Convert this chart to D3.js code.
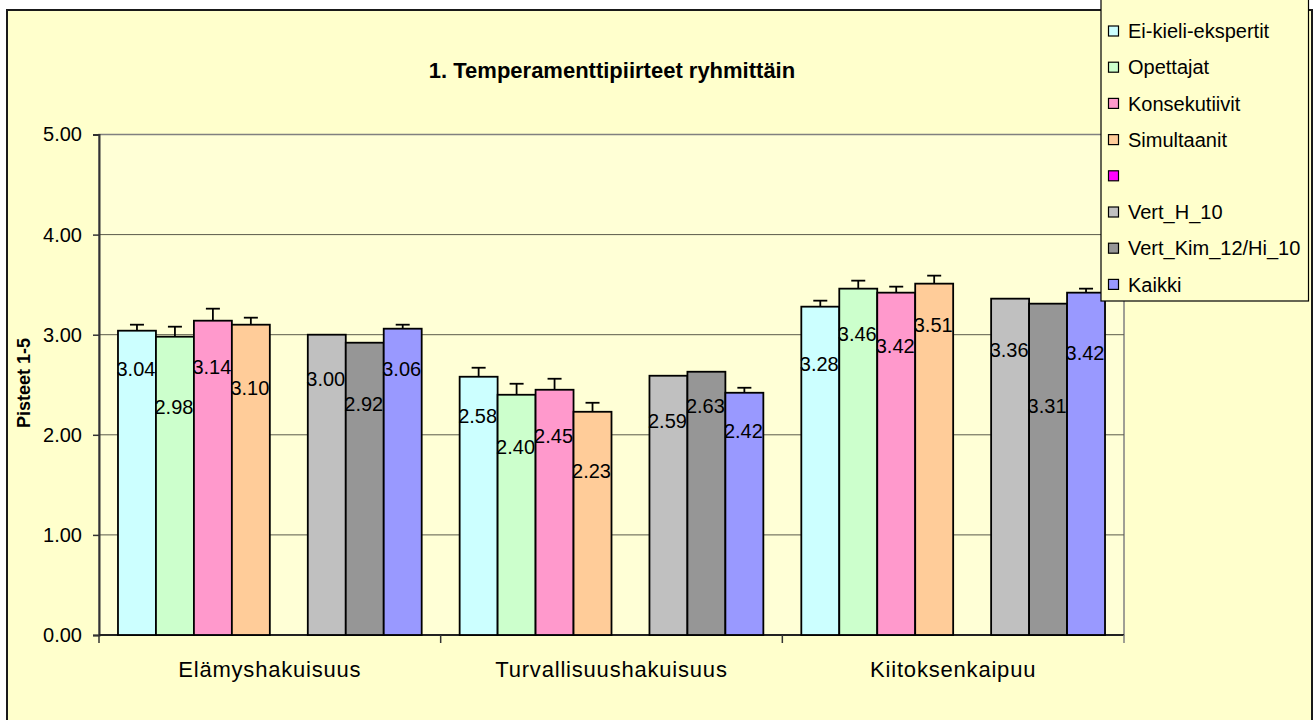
<!DOCTYPE html>
<html>
<head>
<meta charset="utf-8">
<script src="https://cdn.jsdelivr.net/npm/d3@7"></script>
<style>
  html, body { margin: 0; padding: 0; background: #ffffff; }
  svg { display: block; font-family: Arial, "Liberation Sans", sans-serif; }
</style>
</head>
<body>
<svg id="chart" width="1316" height="720"></svg>
<script>
// ---------- data ----------
const title = "1. Temperamenttipiirteet ryhmittäin";
const yAxisTitle = "Pisteet 1-5";
const categories = ["Elämyshakuisuus", "Turvallisuushakuisuus", "Kiitoksenkaipuu"];
const seriesNames = ["Ei-kieli-ekspertit", "Opettajat", "Konsekutiivit", "Simultaanit", "", "Vert_H_10", "Vert_Kim_12/Hi_10", "Kaikki"];
const seriesColors = ["#CCFFFF", "#CCFFCC", "#FF99CC", "#FFCC99", "#FF00FF", "#C0C0C0", "#969696", "#9999FF"];
// values per series, one per category (null = no data)
const eiKieli      = [3.04, 2.58, 3.28];
const opettajat    = [2.98, 2.40, 3.46];
const konsekutiivit= [3.14, 2.45, 3.42];
const simultaanit  = [3.10, 2.23, 3.51];
const tyhja        = [null, null, null];
const vertH10      = [3.00, 2.59, 3.36];
const vertKim      = [2.92, 2.63, 3.31];
const kaikki       = [3.06, 2.42, 3.42];
// error bar (plus) amounts, null = no error bar
const errEiKieli   = [0.06, 0.09, 0.06];
const errOpettajat = [0.10, 0.11, 0.08];
const errKonsek    = [0.12, 0.11, 0.06];
const errSimult    = [0.07, 0.09, 0.08];
const errTyhja     = [null, null, null];
const errVertH     = [null, null, null];
const errVertKim   = [null, null, null];
const errKaikki    = [0.04, 0.05, 0.04];
// value level (on the 0-5 scale) where each data label sits in the picture
const lblEiKieli   = [2.655, 2.19, 2.71];
const lblOpettajat = [2.28, 1.88, 3.01];
const lblKonsek    = [2.68, 1.99, 2.89];
const lblSimult    = [2.47, 1.64, 3.10];
const lblTyhja     = [null, null, null];
const lblVertH     = [2.56, 2.14, 2.85];
const lblVertKim   = [2.31, 2.29, 2.29];
const lblKaikki    = [2.66, 2.04, 2.82];
const yTicks = [0, 1, 2, 3, 4, 5];

const seriesValues = [eiKieli, opettajat, konsekutiivit, simultaanit, tyhja, vertH10, vertKim, kaikki];
const seriesErrors = [errEiKieli, errOpettajat, errKonsek, errSimult, errTyhja, errVertH, errVertKim, errKaikki];
const seriesLabels = [lblEiKieli, lblOpettajat, lblKonsek, lblSimult, lblTyhja, lblVertH, lblVertKim, lblKaikki];

// ---------- layout ----------
const svg = d3.select("#chart");
const plot = { left: 99, right: 1124, top: 134.5, bottom: 635 };
const fontMain = 20;

// chart area background + border
svg.append("rect").attr("x", 0).attr("y", 0).attr("width", 1316).attr("height", 720).attr("fill", "#ffffff");
svg.append("rect").attr("x", 7).attr("y", 10).attr("width", 1305).attr("height", 720)
  .attr("fill", "#FFFFCC").attr("stroke", "#1a1a1a").attr("stroke-width", 2);

// plot area
svg.append("rect").attr("x", plot.left).attr("y", plot.top)
  .attr("width", plot.right - plot.left).attr("height", plot.bottom - plot.top)
  .attr("fill", "#FFFFD6").attr("stroke", "#808080").attr("stroke-width", 1.5);

const x0 = d3.scaleBand().domain(categories).range([plot.left, plot.right]).paddingInner(0).paddingOuter(0);
const x1 = d3.scaleBand().domain(d3.range(seriesNames.length)).range([0, x0.bandwidth()]).paddingInner(0).paddingOuter(0.5);
const y = d3.scaleLinear().domain([0, 5]).range([plot.bottom, plot.top]);

// gridlines
svg.append("g").selectAll("line").data(yTicks.filter(t => t > 0)).join("line")
  .attr("x1", plot.left).attr("x2", plot.right)
  .attr("y1", d => y(d)).attr("y2", d => y(d))
  .attr("stroke", d => d === 5 ? "#808080" : "#5a5a4a").attr("stroke-width", 1);

// y axis
const yAxis = d3.axisLeft(y).tickValues(yTicks).tickFormat(d3.format(".2f")).tickSize(6).tickPadding(11);
const gy = svg.append("g").attr("transform", `translate(${plot.left},0)`).call(yAxis);
gy.select(".domain").attr("stroke", "#333333").attr("stroke-width", 2);
gy.selectAll(".tick line").attr("stroke", "#333333").attr("stroke-width", 1.5);
gy.selectAll(".tick text").attr("font-size", fontMain).attr("fill", "#000").attr("font-family", "Arial, 'Liberation Sans', sans-serif");

// x axis line and category ticks
const xTickPositions = categories.map(c => x0(c)).concat([x0(categories[categories.length - 1]) + x0.bandwidth()]);
svg.append("line").attr("x1", plot.left).attr("x2", plot.right).attr("y1", plot.bottom).attr("y2", plot.bottom)
  .attr("stroke", "#222222").attr("stroke-width", 2);
svg.append("g").selectAll("line").data(xTickPositions).join("line")
  .attr("x1", d => d).attr("x2", d => d).attr("y1", plot.bottom).attr("y2", plot.bottom + 8)
  .attr("stroke", (d, i) => i === xTickPositions.length - 1 ? "#808080" : "#333333").attr("stroke-width", 1.5);
svg.append("g").selectAll("text").data(categories).join("text")
  .attr("x", d => x0(d) + x0.bandwidth() / 2).attr("y", 677)
  .attr("text-anchor", "middle").attr("font-size", 22).attr("letter-spacing", 0.8)
  .attr("fill", "#000").text(d => d);

// bars
const barData = [];
seriesValues.forEach((vals, si) => {
  vals.forEach((v, ci) => {
    if (v !== null) barData.push({ si, ci, v, err: seriesErrors[si][ci], lbl: seriesLabels[si][ci] });
  });
});
const gBars = svg.append("g");
gBars.selectAll("rect").data(barData).join("rect")
  .attr("x", d => x0(categories[d.ci]) + x1(d.si))
  .attr("y", d => y(d.v))
  .attr("width", x1.bandwidth())
  .attr("height", d => y(0) - y(d.v))
  .attr("fill", d => seriesColors[d.si])
  .attr("stroke", "#000").attr("stroke-width", 1.8);

// error bars
const errData = barData.filter(d => d.err !== null);
const gErr = svg.append("g").attr("stroke", "#000").attr("stroke-width", 1.8);
errData.forEach(d => {
  const cx = x0(categories[d.ci]) + x1(d.si) + x1.bandwidth() / 2;
  gErr.append("line").attr("x1", cx).attr("x2", cx).attr("y1", y(d.v)).attr("y2", y(d.v + d.err));
  gErr.append("line").attr("x1", cx - 7).attr("x2", cx + 7).attr("y1", y(d.v + d.err)).attr("y2", y(d.v + d.err));
});

// data labels
svg.append("g").selectAll("text").data(barData).join("text")
  .attr("x", d => x0(categories[d.ci]) + x1(d.si) + x1.bandwidth() / 2 - 1)
  .attr("y", d => y(d.lbl))
  .attr("dy", "0.36em")
  .attr("text-anchor", "middle").attr("font-size", fontMain).attr("fill", "#000")
  .text(d => d3.format(".2f")(d.v));

// title
svg.append("text").attr("x", 612).attr("y", 78).attr("text-anchor", "middle")
  .attr("font-size", 22).attr("font-weight", "bold").attr("fill", "#000").text(title);

// y axis title
svg.append("text").attr("transform", "translate(30,383) rotate(-90)")
  .attr("text-anchor", "middle").attr("font-size", 18).attr("font-weight", "bold").attr("fill", "#000").text(yAxisTitle);

// legend
const legend = svg.append("g");
legend.append("rect").attr("x", 1101).attr("y", -5).attr("width", 207.5).attr("height", 306)
  .attr("fill", "#FFFFCC").attr("stroke", "#000").attr("stroke-width", 1.2);
const legItems = legend.selectAll("g.item").data(seriesNames.map((n, i) => ({ n, i }))).join("g").attr("class", "item")
  .attr("transform", d => `translate(0,${31 + d.i * 36.2})`);
legItems.append("rect").attr("x", 1108.5).attr("y", -5).attr("width", 10).attr("height", 10)
  .attr("fill", d => seriesColors[d.i]).attr("stroke", "#000").attr("stroke-width", 1.2);
legItems.append("text").attr("x", 1128).attr("y", 0).attr("dy", "0.36em")
  .attr("font-size", fontMain).attr("fill", "#000").text(d => d.n);
</script>
</body>
</html>
